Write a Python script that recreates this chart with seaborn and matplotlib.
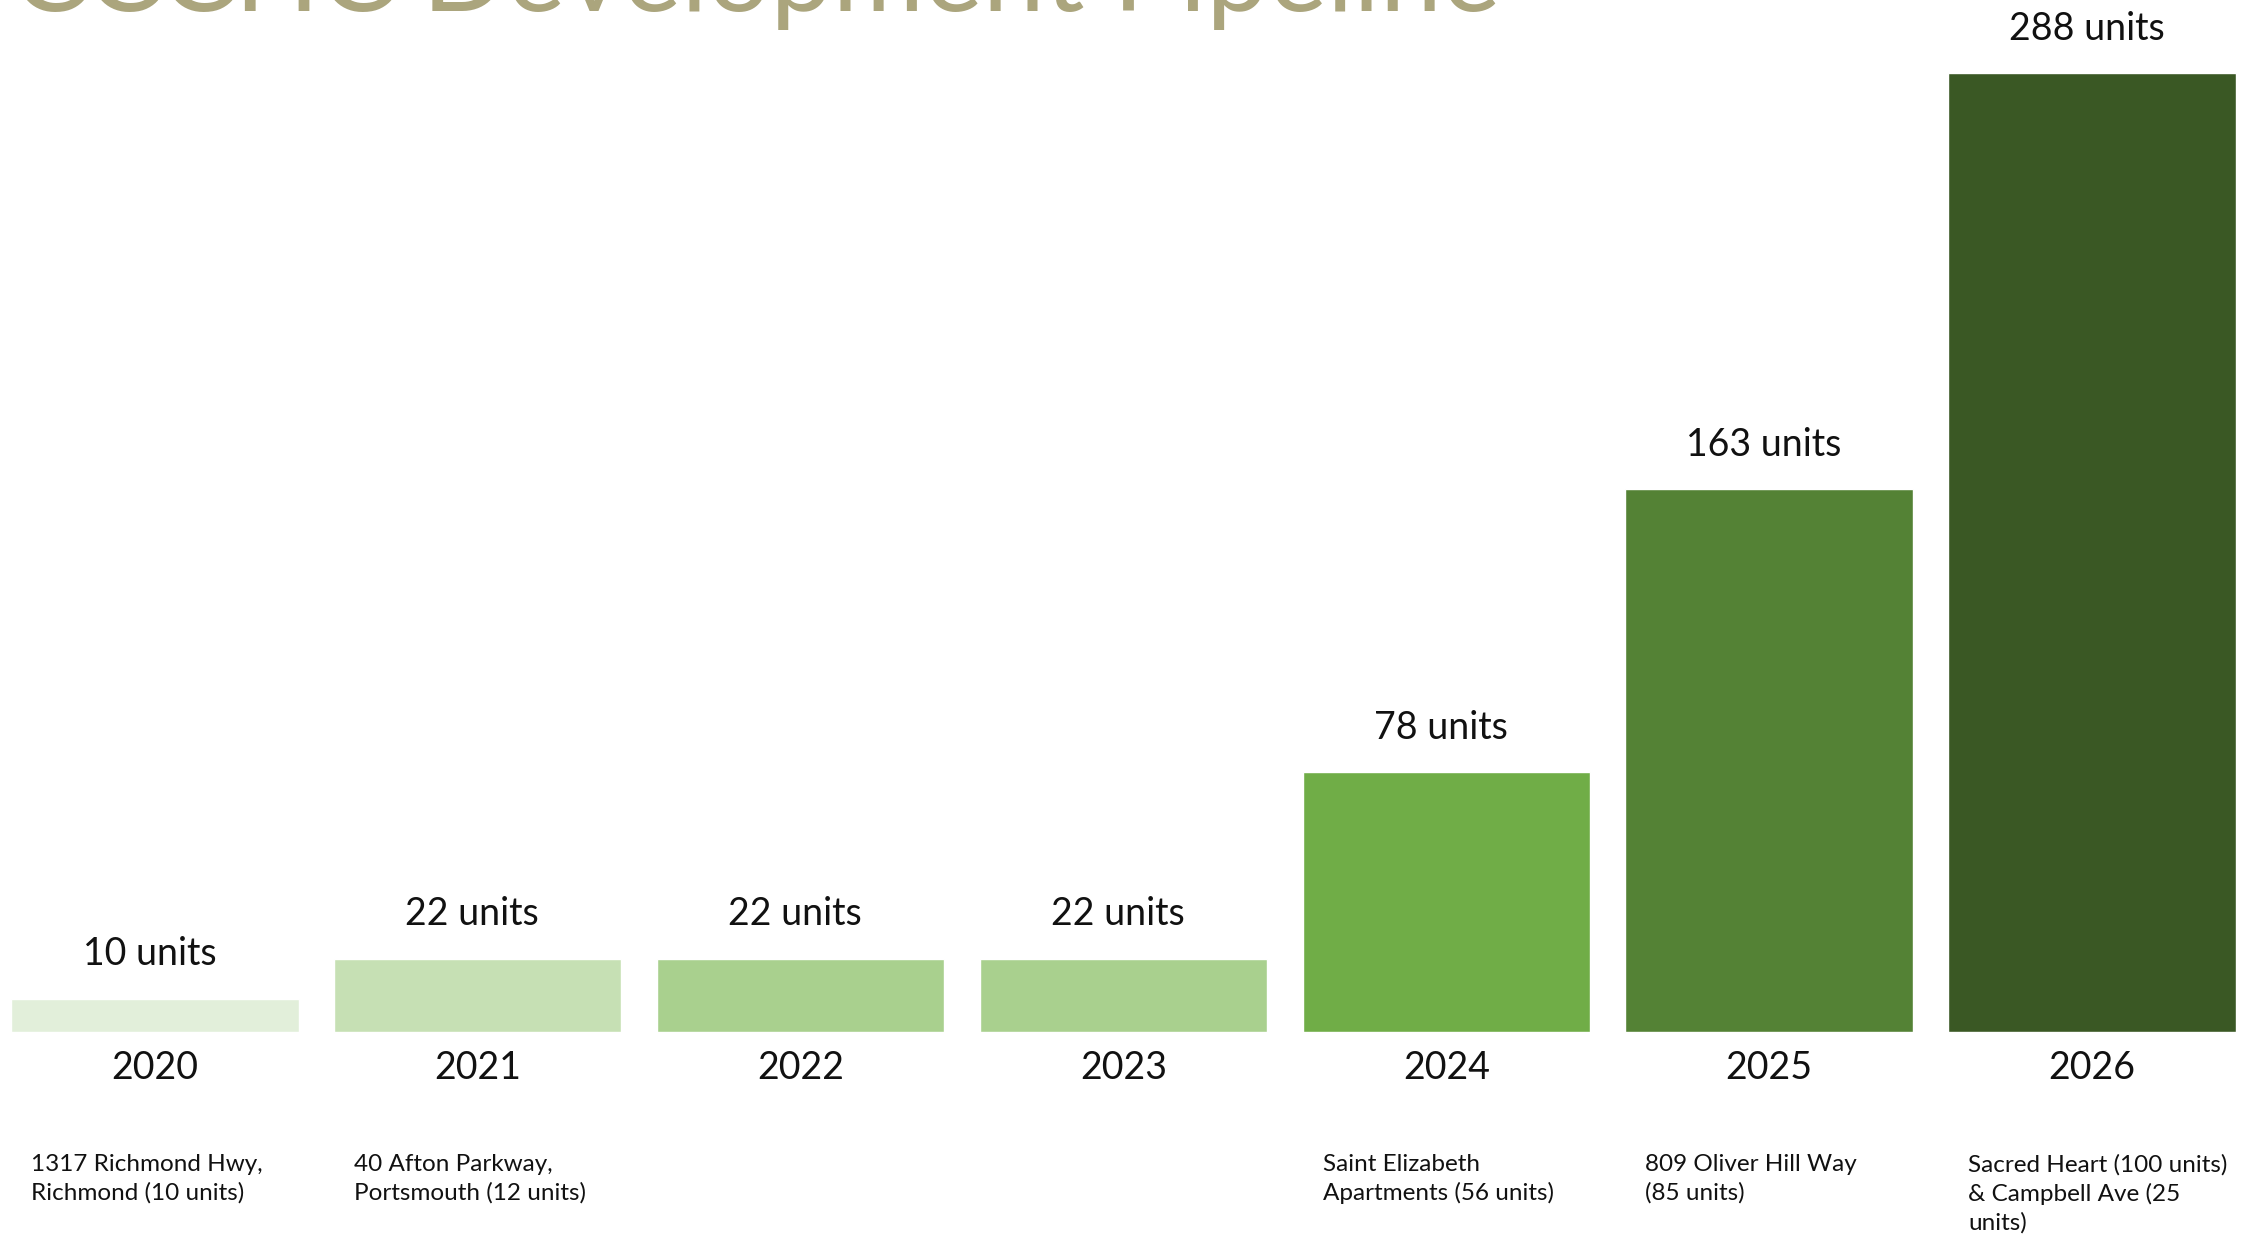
import numpy as np
import pandas as pd
import seaborn as sns
import matplotlib.pyplot as plt
from matplotlib.transforms import blended_transform_factory

years = ["2020", "2021", "2022", "2023", "2024", "2025", "2026"]
units = [10, 22, 22, 22, 78, 163, 288]
projects = [
    "1317 Richmond Hwy,\nRichmond (10 units)",
    "40 Afton Parkway,\nPortsmouth (12 units)",
    "",
    "",
    "Saint Elizabeth\nApartments (56 units)",
    "809 Oliver Hill Way\n(85 units)",
    "Sacred Heart (100 units)\n& Campbell Ave (25\nunits)",
]
bar_colors = ["#E2EFDA", "#C6E0B4", "#A9D08E", "#A9D08E", "#70AD47", "#548235", "#3A5824"]

df = pd.DataFrame({"Year": years, "Units": units})

sns.set_style("white")
plt.rcParams['font.family'] = ['Lato', 'DejaVu Sans']

fig = plt.figure(figsize=(22.64, 12.34), dpi=100)
ax = fig.add_axes([0, 202 / 1234, 1, 1032 / 1234])

sns.barplot(data=df, x="Year", y="Units", hue="Year", palette=bar_colors,
            width=0.89, saturation=1, legend=False, ax=ax)

ax.set_xlim(-0.48, 6.533)
ax.set_ylim(0, 310)
sns.despine(ax=ax, left=True, bottom=True)
ax.set(xlabel="", ylabel="", yticks=[])
ax.tick_params(axis="x", length=0, pad=13, labelsize=27, labelcolor="#111111")

# unit labels above the bars
for i, v in enumerate(units):
    ax.annotate(f"{v} units", (i, v), xytext=(-4, 32), textcoords="offset points",
                ha="center", va="center", fontsize=27, color="#111111")

# project notes under the years
trans = blended_transform_factory(ax.transData, fig.transFigure)
for i, txt in enumerate(projects):
    if txt:
        ax.text(i - 0.383, 1 - 1154 / 1234, txt, transform=trans, ha="left", va="top",
                fontsize=17.5, linespacing=1.4, color="#111111")

# title, cut off at the top like the slide
fig.text(12 / 2264, 1 - 11 / 1234, "CCCHC Development Pipeline", ha="left", va="baseline",
         fontsize=80, color="#ABA57D")

plt.savefig("out.png", dpi=100)
